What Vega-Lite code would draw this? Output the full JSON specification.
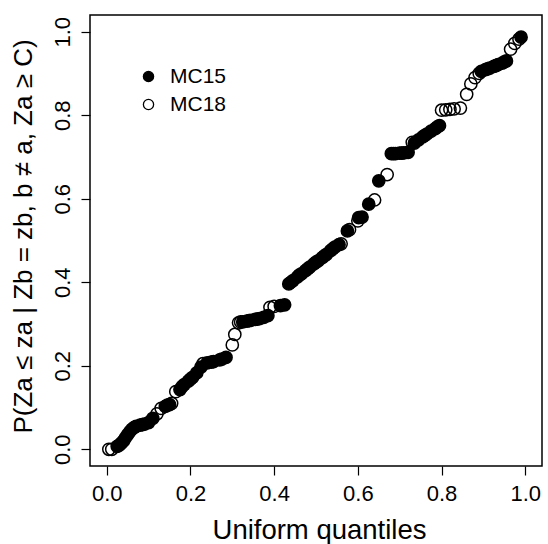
{
  "$schema": "https://vega.github.io/schema/vega-lite/v6.json",
  "width": 452,
  "height": 451,
  "autosize": {"type": "none"},
  "padding": {"left": 90, "top": 15, "right": 6, "bottom": 78},
  "background": "white",
  "config": {
    "font": "Liberation Sans",
    "view": {"stroke": "black", "strokeWidth": 1.5},
    "axis": {"grid": false, "domain": false, "labelFlush": false, "labelOverlap": false}
  },
  "data": {
    "values": [
      {"series": "MC18", "q": 0.005, "p": 0.000},
      {"series": "MC18", "q": 0.012, "p": 0.000},
      {"series": "MC18", "q": 0.03, "p": 0.010},
      {"series": "MC18", "q": 0.045, "p": 0.028},
      {"series": "MC18", "q": 0.065, "p": 0.052},
      {"series": "MC18", "q": 0.085, "p": 0.059},
      {"series": "MC18", "q": 0.12, "p": 0.085},
      {"series": "MC18", "q": 0.13, "p": 0.098},
      {"series": "MC18", "q": 0.145, "p": 0.106},
      {"series": "MC18", "q": 0.155, "p": 0.110},
      {"series": "MC18", "q": 0.165, "p": 0.138},
      {"series": "MC18", "q": 0.18, "p": 0.150},
      {"series": "MC18", "q": 0.20, "p": 0.168},
      {"series": "MC18", "q": 0.23, "p": 0.205},
      {"series": "MC18", "q": 0.25, "p": 0.209},
      {"series": "MC18", "q": 0.275, "p": 0.216},
      {"series": "MC18", "q": 0.30, "p": 0.250},
      {"series": "MC18", "q": 0.306, "p": 0.275},
      {"series": "MC18", "q": 0.315, "p": 0.303},
      {"series": "MC18", "q": 0.32, "p": 0.305},
      {"series": "MC18", "q": 0.34, "p": 0.308},
      {"series": "MC18", "q": 0.36, "p": 0.312},
      {"series": "MC18", "q": 0.39, "p": 0.340},
      {"series": "MC18", "q": 0.40, "p": 0.342},
      {"series": "MC18", "q": 0.44, "p": 0.400},
      {"series": "MC18", "q": 0.46, "p": 0.417},
      {"series": "MC18", "q": 0.48, "p": 0.432},
      {"series": "MC18", "q": 0.50, "p": 0.448},
      {"series": "MC18", "q": 0.52, "p": 0.463},
      {"series": "MC18", "q": 0.54, "p": 0.480},
      {"series": "MC18", "q": 0.56, "p": 0.492},
      {"series": "MC18", "q": 0.58, "p": 0.526},
      {"series": "MC18", "q": 0.60, "p": 0.547},
      {"series": "MC18", "q": 0.64, "p": 0.597},
      {"series": "MC18", "q": 0.67, "p": 0.658},
      {"series": "MC18", "q": 0.685, "p": 0.708},
      {"series": "MC18", "q": 0.705, "p": 0.709},
      {"series": "MC18", "q": 0.73, "p": 0.735},
      {"series": "MC18", "q": 0.76, "p": 0.752},
      {"series": "MC18", "q": 0.79, "p": 0.772},
      {"series": "MC18", "q": 0.80, "p": 0.812},
      {"series": "MC18", "q": 0.81, "p": 0.813},
      {"series": "MC18", "q": 0.82, "p": 0.814},
      {"series": "MC18", "q": 0.83, "p": 0.815},
      {"series": "MC18", "q": 0.845, "p": 0.817},
      {"series": "MC18", "q": 0.86, "p": 0.850},
      {"series": "MC18", "q": 0.87, "p": 0.875},
      {"series": "MC18", "q": 0.88, "p": 0.890},
      {"series": "MC18", "q": 0.89, "p": 0.900},
      {"series": "MC18", "q": 0.91, "p": 0.911},
      {"series": "MC18", "q": 0.93, "p": 0.919},
      {"series": "MC18", "q": 0.95, "p": 0.928},
      {"series": "MC18", "q": 0.965, "p": 0.958},
      {"series": "MC18", "q": 0.975, "p": 0.972},
      {"series": "MC18", "q": 0.985, "p": 0.982},
      {"series": "MC15", "q": 0.025, "p": 0.007},
      {"series": "MC15", "q": 0.035, "p": 0.015},
      {"series": "MC15", "q": 0.04, "p": 0.020},
      {"series": "MC15", "q": 0.05, "p": 0.035},
      {"series": "MC15", "q": 0.055, "p": 0.042},
      {"series": "MC15", "q": 0.06, "p": 0.048},
      {"series": "MC15", "q": 0.07, "p": 0.055},
      {"series": "MC15", "q": 0.08, "p": 0.058},
      {"series": "MC15", "q": 0.09, "p": 0.060},
      {"series": "MC15", "q": 0.10, "p": 0.064},
      {"series": "MC15", "q": 0.11, "p": 0.074},
      {"series": "MC15", "q": 0.14, "p": 0.103},
      {"series": "MC15", "q": 0.15, "p": 0.107},
      {"series": "MC15", "q": 0.175, "p": 0.143},
      {"series": "MC15", "q": 0.185, "p": 0.155},
      {"series": "MC15", "q": 0.195, "p": 0.163},
      {"series": "MC15", "q": 0.205, "p": 0.172},
      {"series": "MC15", "q": 0.215, "p": 0.183},
      {"series": "MC15", "q": 0.225, "p": 0.197},
      {"series": "MC15", "q": 0.24, "p": 0.207},
      {"series": "MC15", "q": 0.255, "p": 0.210},
      {"series": "MC15", "q": 0.27, "p": 0.214},
      {"series": "MC15", "q": 0.285, "p": 0.220},
      {"series": "MC15", "q": 0.325, "p": 0.305},
      {"series": "MC15", "q": 0.335, "p": 0.307},
      {"series": "MC15", "q": 0.345, "p": 0.309},
      {"series": "MC15", "q": 0.355, "p": 0.311},
      {"series": "MC15", "q": 0.365, "p": 0.313},
      {"series": "MC15", "q": 0.375, "p": 0.316},
      {"series": "MC15", "q": 0.385, "p": 0.320},
      {"series": "MC15", "q": 0.415, "p": 0.344},
      {"series": "MC15", "q": 0.425, "p": 0.346},
      {"series": "MC15", "q": 0.435, "p": 0.396},
      {"series": "MC15", "q": 0.445, "p": 0.404},
      {"series": "MC15", "q": 0.455, "p": 0.412},
      {"series": "MC15", "q": 0.465, "p": 0.420},
      {"series": "MC15", "q": 0.475, "p": 0.428},
      {"series": "MC15", "q": 0.485, "p": 0.436},
      {"series": "MC15", "q": 0.495, "p": 0.444},
      {"series": "MC15", "q": 0.505, "p": 0.451},
      {"series": "MC15", "q": 0.515, "p": 0.459},
      {"series": "MC15", "q": 0.525, "p": 0.467},
      {"series": "MC15", "q": 0.535, "p": 0.476},
      {"series": "MC15", "q": 0.545, "p": 0.484},
      {"series": "MC15", "q": 0.555, "p": 0.490},
      {"series": "MC15", "q": 0.575, "p": 0.523},
      {"series": "MC15", "q": 0.602, "p": 0.555},
      {"series": "MC15", "q": 0.61, "p": 0.556},
      {"series": "MC15", "q": 0.626, "p": 0.587},
      {"series": "MC15", "q": 0.65, "p": 0.643},
      {"series": "MC15", "q": 0.68, "p": 0.708},
      {"series": "MC15", "q": 0.69, "p": 0.708},
      {"series": "MC15", "q": 0.70, "p": 0.709},
      {"series": "MC15", "q": 0.71, "p": 0.710},
      {"series": "MC15", "q": 0.72, "p": 0.711},
      {"series": "MC15", "q": 0.735, "p": 0.733},
      {"series": "MC15", "q": 0.745, "p": 0.741},
      {"series": "MC15", "q": 0.755, "p": 0.748},
      {"series": "MC15", "q": 0.765, "p": 0.755},
      {"series": "MC15", "q": 0.775, "p": 0.762},
      {"series": "MC15", "q": 0.785, "p": 0.768},
      {"series": "MC15", "q": 0.795, "p": 0.775},
      {"series": "MC15", "q": 0.895, "p": 0.905},
      {"series": "MC15", "q": 0.905, "p": 0.909},
      {"series": "MC15", "q": 0.915, "p": 0.913},
      {"series": "MC15", "q": 0.925, "p": 0.917},
      {"series": "MC15", "q": 0.935, "p": 0.921},
      {"series": "MC15", "q": 0.945, "p": 0.925},
      {"series": "MC15", "q": 0.955, "p": 0.930},
      {"series": "MC15", "q": 0.99, "p": 0.987}
    ]
  },
  "mark": {"type": "point", "shape": "circle", "filled": true, "stroke": "black", "strokeWidth": 1.5, "size": 150, "opacity": 1},
  "encoding": {
    "x": {
      "field": "q", "type": "quantitative",
      "scale": {"domain": [-0.04, 1.04], "nice": false, "zero": false},
      "axis": {
        "values": [0, 0.2, 0.4, 0.6, 0.8, 1.0], "format": ".1f",
        "tickSize": 9, "tickColor": "black", "tickWidth": 1.2,
        "labelFontSize": 22, "labelPadding": 8, "labelColor": "black",
        "title": "Uniform quantiles", "titleFontSize": 27.5, "titleFontWeight": "normal", "titleColor": "black",
        "titleBaseline": "alphabetic", "titleAlign": "center", "titleX": 229, "titleY": 72
      }
    },
    "y": {
      "field": "p", "type": "quantitative",
      "scale": {"domain": [-0.04, 1.04], "nice": false, "zero": false},
      "axis": {
        "values": [0, 0.2, 0.4, 0.6, 0.8, 1.0], "format": ".1f",
        "tickSize": 9, "tickColor": "black", "tickWidth": 1.2,
        "labelFontSize": 22, "labelPadding": 12, "labelColor": "black",
        "labelAngle": -90, "labelAlign": "center", "labelBaseline": "alphabetic",
        "title": "P(Za ≤ za | Zb = zb, b ≠ a, Za ≥ C)", "titleFontSize": 26, "titleFontWeight": "normal", "titleColor": "black",
        "titleAngle": -90, "titleBaseline": "alphabetic", "titleAlign": "center", "titleX": -59, "titleY": 221
      }
    },
    "fill": {
      "field": "series", "type": "nominal",
      "scale": {"domain": ["MC15", "MC18"], "range": ["black", "transparent"]},
      "legend": {
        "title": null, "orient": "none", "legendX": 48, "legendY": 51,
        "labelFontSize": 21, "labelColor": "black", "labelOffset": 11,
        "symbolType": "circle", "symbolSize": 105, "symbolStrokeColor": "black", "symbolStrokeWidth": 1.3,
        "rowPadding": 6
      }
    },
    "order": {"field": "series", "sort": "descending"}
  }
}
